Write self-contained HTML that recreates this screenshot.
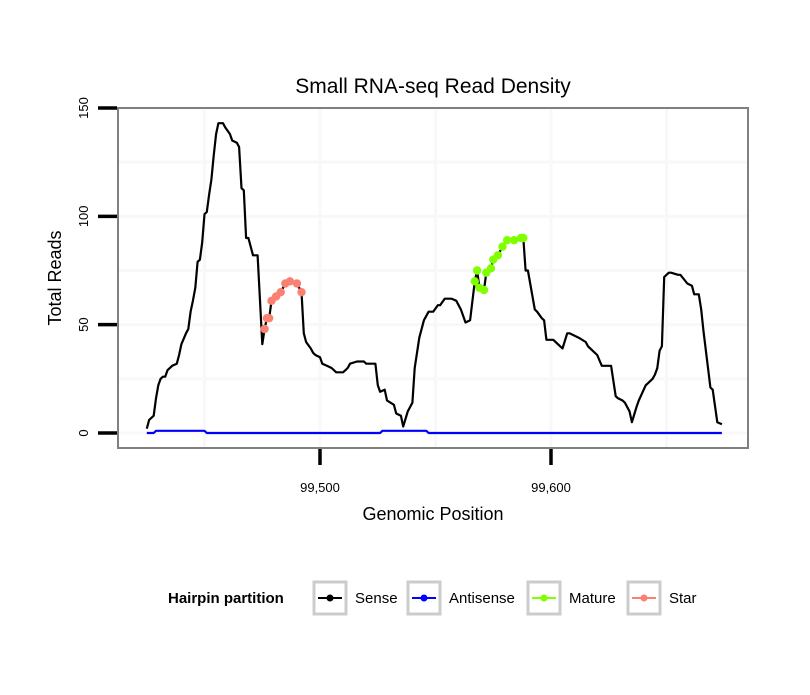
<!DOCTYPE html>
<html><head><meta charset="utf-8"><style>
body{margin:0;background:#fff;}
svg text{font-family:"Liberation Sans",sans-serif;}
</style></head><body>
<svg id="chart" width="810" height="690" viewBox="0 0 810 690" xmlns="http://www.w3.org/2000/svg">
<rect width="810" height="690" fill="#fff"/>
<text x="433" y="93" font-size="21" text-anchor="middle" fill="#000">Small RNA-seq Read Density</text>
<g id="grid"></g>
<g id="series"></g>
<rect x="118" y="108" width="630" height="340" fill="none" stroke="#808080" stroke-width="2"/>
<g id="axes"></g>
<text x="433" y="520" font-size="18" text-anchor="middle">Genomic Position</text>
<text transform="translate(61,278) rotate(-90)" font-size="18" text-anchor="middle">Total Reads</text>
<g>
<text x="168" y="603" font-size="15" font-weight="bold">Hairpin partition</text>
<g><rect x="314" y="582" width="32" height="32" fill="#fff" stroke="#ccc" stroke-width="3"/><line x1="318" y1="598" x2="342" y2="598" stroke="#000" stroke-width="2"/><circle cx="330" cy="598" r="3.5" fill="#000"/><text x="355" y="603" font-size="15">Sense</text></g>
<g><rect x="408" y="582" width="32" height="32" fill="#fff" stroke="#ccc" stroke-width="3"/><line x1="412" y1="598" x2="436" y2="598" stroke="#0000ff" stroke-width="2"/><circle cx="424" cy="598" r="3.5" fill="#0000ff"/><text x="449" y="603" font-size="15">Antisense</text></g>
<g><rect x="528" y="582" width="32" height="32" fill="#fff" stroke="#ccc" stroke-width="3"/><line x1="532" y1="598" x2="556" y2="598" stroke="#7fff00" stroke-width="2"/><circle cx="544" cy="598" r="3.5" fill="#7fff00"/><text x="569" y="603" font-size="15">Mature</text></g>
<g><rect x="628" y="582" width="32" height="32" fill="#fff" stroke="#ccc" stroke-width="3"/><line x1="632" y1="598" x2="656" y2="598" stroke="#fa8072" stroke-width="2"/><circle cx="644" cy="598" r="3.5" fill="#fa8072"/><text x="669" y="603" font-size="15">Star</text></g>
</g>
</svg>
<script>
const sensePos=[99425,99426,99428,99429,99430,99431,99432,99433,99434,99436,99438,99439,99440,99442,99443,99444,99445,99446,99447,99448,99449,99450,99451,99452,99453,99454,99455,99456,99457,99458,99459,99461,99462,99464,99465,99466,99467,99468,99469,99471,99472,99473,99475,99476,99477,99478,99479,99481,99483,99485,99487,99490,99492,99493,99494,99496,99497,99498,99500,99501,99503,99505,99507,99510,99512,99513,99516,99519,99520,99524,99525,99526,99528,99529,99532,99533,99535,99536,99538,99539,99540,99541,99543,99545,99547,99549,99551,99552,99554,99556,99557,99559,99561,99563,99565,99567,99568,99569,99571,99572,99574,99575,99577,99579,99581,99584,99587,99588,99589,99590,99593,99594,99596,99597,99598,99600,99601,99603,99605,99607,99608,99610,99612,99615,99616,99618,99620,99622,99625,99626,99628,99629,99631,99632,99634,99635,99637,99638,99641,99642,99644,99645,99646,99647,99648,99649,99651,99652,99655,99656,99659,99661,99662,99664,99665,99666,99669,99670,99672,99674];
const senseVal=[2,6,8,16,22,25,26,26,29,31,32,36,41,46,48,56,61,67,79,80,88,101,102,110,117,128,138,143,143,143,141,138,135,134,132,113,112,90,90,82,82,82,41,48,53,53,61,63,65,69,70,69,65,46,42,39,37,36,35,32,31,30,28,28,30,32,33,33,32,32,22,19,20,15,13,9,8,3,10,12,14,30,44,52,56,56,59,59,62,62,62,61,57,51,52,70,75,67,66,74,76,80,82,86,89,89,90,90,75,75,57,56,53,52,43,43,43,41,39,46,46,45,44,42,40,38,36,31,31,31,17,16,15,14,10,5,12,15,22,23,25,27,30,38,40,72,74,74,73,73,69,68,64,64,57,47,21,20,5,4,2];
const antiPos=[99425,99428,99429,99450,99451,99526,99527,99546,99547,99674];
const antiVal=[0,0,1,1,0,0,1,1,0,0];
const starRange=[99476,99492];
const matureRange=[99567,99588];
const xTicks=[99500,99600];
const xTickLabels=["99,500","99,600"];
const yTicks=[0,50,100,150];
const yMinor=[25,75,125];
const xGrid=[99450,99550,99650];

const NS="http://www.w3.org/2000/svg";
const X=v=>320+(v-99500)*2.31;
const Y=v=>433-v*2.1667;
function mk(tag,attrs,parent){const e=document.createElementNS(NS,tag);for(const k in attrs)e.setAttribute(k,attrs[k]);parent.appendChild(e);return e;}
const grid=document.getElementById('grid'),ser=document.getElementById('series'),axes=document.getElementById('axes');
yMinor.concat(yTicks).forEach(v=>{const l=mk('line',{x1:119,x2:747,y1:Y(v),y2:Y(v),stroke:'#f8f8f8','stroke-width':3},grid);

});
xGrid.concat(xTicks).forEach(v=>{const l=mk('line',{x1:X(v),x2:X(v),y1:109,y2:447,stroke:'#f8f8f8','stroke-width':3},grid);

});
function path(px,py,color,name){let d='';px.forEach((p,i)=>{d+=(i?'L':'M')+X(p).toFixed(1)+','+Y(py[i]).toFixed(1);});
const e=mk('path',{d:d,fill:'none',stroke:color,'stroke-width':2.2,'stroke-linejoin':'round'},ser);

}
path(antiPos,antiVal,'#0000ff','antisense-line');
path(sensePos,senseVal,'#000','sense-line');
function pts(range,color,name){sensePos.forEach((p,i)=>{if(p>=range[0]&&p<=range[1]){const c=mk('circle',{cx:X(p),cy:Y(senseVal[i]),r:4.2,fill:color},ser);

}});}
pts(starRange,'#fa8072','star-point');
pts(matureRange,'#7fff00','mature-point');
yTicks.forEach(v=>{const t=mk('line',{x1:98,x2:117,y1:Y(v),y2:Y(v),stroke:'#000','stroke-width':3.5},axes);


const tx=mk('text',{transform:`translate(88,${Y(v)}) rotate(-90)`,'font-size':13,'text-anchor':'middle',fill:'#000'},axes);
tx.textContent=v;

});
xTicks.forEach((v,i)=>{const t=mk('line',{x1:X(v),x2:X(v),y1:449,y2:465,stroke:'#000','stroke-width':3.5},axes);


const tx=mk('text',{x:X(v),y:492,'font-size':13,'text-anchor':'middle',fill:'#000'},axes);
tx.textContent=xTickLabels[i];

});
</script>
</body></html>
